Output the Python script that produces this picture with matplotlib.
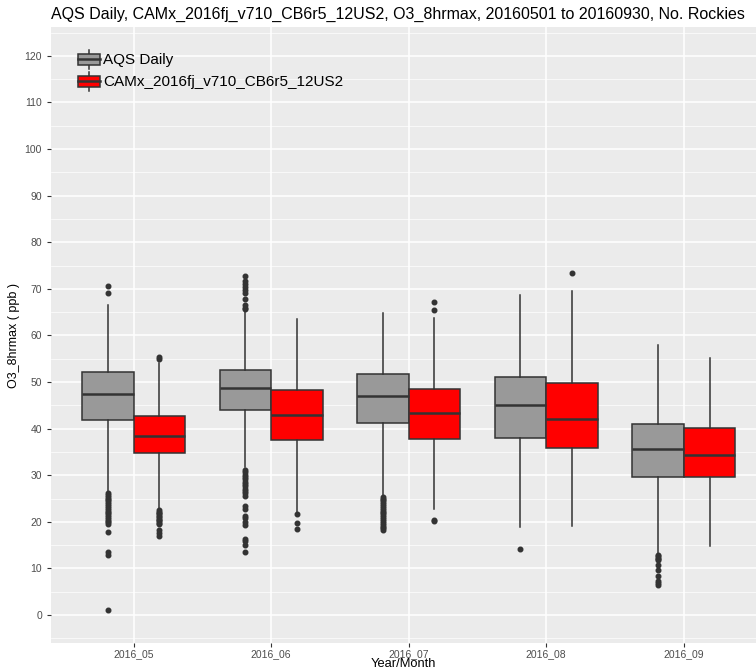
import matplotlib
matplotlib.use("Agg")
import matplotlib.pyplot as plt
from matplotlib.patches import Patch, Rectangle
from matplotlib.lines import Line2D
from matplotlib.legend_handler import HandlerBase
from matplotlib.ticker import MultipleLocator

plt.rcParams['font.family'] = ['Liberation Sans', 'DejaVu Sans']

# data
months = ['2016_05', '2016_06', '2016_07', '2016_08', '2016_09']
series = ['AQS Daily', 'CAMx_2016fj_v710_CB6r5_12US2']
colors = ['#999999', '#FF0000']

# AQS Daily
obs_q1 = [41.9, 44.1, 41.3, 38.0, 29.7]
obs_med = [47.4, 48.7, 47.0, 45.1, 35.6]
obs_q3 = [52.1, 52.6, 51.7, 51.1, 41.1]
obs_lo = [26.4, 31.8, 25.6, 19.0, 13.0]
obs_hi = [66.5, 65.0, 64.8, 68.7, 57.9]
obs_fliers = [
    [70.6, 69.2, 26.2, 25.8, 25.4, 25.0, 24.6, 24.2, 23.8, 23.4, 23.0, 22.6,
     22.2, 21.8, 21.4, 21.0, 20.6, 20.2, 19.9, 19.6, 17.8, 13.6, 12.8, 1.0],
    [72.8, 71.6, 71.0, 70.4, 69.8, 69.2, 67.8, 66.5, 66.0, 65.6, 31.1, 30.6,
     30.1, 29.6, 29.1, 28.6, 28.1, 27.6, 27.1, 26.6, 26.1, 25.6, 23.4, 22.8,
     21.3, 20.8, 20.0, 19.4, 16.4, 15.9, 15.0, 13.6],
    [25.4, 25.0, 24.6, 24.2, 23.8, 23.4, 23.0, 22.6, 22.2, 21.8, 21.4, 21.0,
     20.6, 20.2, 19.8, 19.4, 19.0, 18.6, 18.2],
    [14.2],
    [12.9, 12.6, 12.3, 12.0, 11.8, 10.7, 9.7, 8.4, 7.2, 6.8, 6.4],
]

# CAMx model
mod_q1 = [34.7, 37.6, 37.8, 35.9, 29.7]
mod_med = [38.5, 42.9, 43.3, 42.1, 34.3]
mod_q3 = [42.7, 48.3, 48.5, 49.7, 40.1]
mod_lo = [22.8, 22.2, 22.7, 19.1, 14.8]
mod_hi = [54.0, 63.5, 63.8, 69.6, 55.1]
mod_fliers = [
    [55.3, 55.0, 22.5, 22.2, 21.9, 21.6, 21.3, 21.0, 20.7, 20.4, 20.1, 19.8,
     19.5, 18.2, 17.6, 16.9],
    [21.6, 19.8, 18.4],
    [67.1, 65.5, 20.5, 20.1],
    [73.5],
    [],
]


def make_stats(q1, med, q3, lo, hi, fl):
    out = []
    for i in range(len(q1)):
        out.append(dict(q1=q1[i], med=med[i], q3=q3[i], whislo=lo[i],
                        whishi=hi[i], fliers=fl[i]))
    return out


class BoxKey(HandlerBase):
    def create_artists(self, legend, orig_handle, xdescent, ydescent,
                       width, height, fontsize, trans):
        x0, y0 = -xdescent, -ydescent
        fc = orig_handle.get_facecolor()
        box = Rectangle((x0, y0 + 0.22 * height), width, 0.56 * height,
                        facecolor=fc, edgecolor='#333333', lw=1.1,
                        transform=trans)
        xm = x0 + width / 2
        ym = y0 + height / 2
        med = Line2D([x0, x0 + width], [ym, ym], color='#333333', lw=1.8,
                     transform=trans)
        w1 = Line2D([xm, xm], [y0, y0 + 0.22 * height], color='#333333',
                    lw=1.1, transform=trans)
        w2 = Line2D([xm, xm], [y0 + 0.78 * height, y0 + height],
                    color='#333333', lw=1.1, transform=trans)
        return [w1, w2, box, med]


fig = plt.figure(figsize=(7.56, 6.72), dpi=100)
ax = fig.add_axes([51 / 756, 29 / 672, 705 / 756, 616 / 672])
ax.set_facecolor('#EBEBEB')

all_stats = [make_stats(obs_q1, obs_med, obs_q3, obs_lo, obs_hi, obs_fliers),
             make_stats(mod_q1, mod_med, mod_q3, mod_lo, mod_hi, mod_fliers)]
offsets = [-0.1875, 0.1875]

for k in range(2):
    pos = [i + 1 + offsets[k] for i in range(len(months))]
    ax.bxp(all_stats[k], positions=pos, widths=0.375, patch_artist=True,
           showcaps=False,
           boxprops=dict(facecolor=colors[k], edgecolor='#333333', lw=1.1),
           medianprops=dict(color='#333333', lw=1.8),
           whiskerprops=dict(color='#333333', lw=1.1),
           flierprops=dict(marker='o', markersize=3.3, markerfacecolor='#333333',
                           markeredgecolor='#333333', linestyle='none'),
           zorder=3)

ax.set_xlim(0.4, 5.525)
ax.set_ylim(-6, 126.2)
ax.set_xticks(range(1, len(months) + 1))
ax.set_xticklabels(months)
ax.yaxis.set_major_locator(MultipleLocator(10))
ax.yaxis.set_minor_locator(MultipleLocator(5))
ax.grid(which='major', color='white', lw=1.1, zorder=0)
ax.grid(which='minor', axis='y', color='white', lw=0.5, zorder=0)
ax.set_axisbelow(True)
for s in ax.spines.values():
    s.set_visible(False)
ax.tick_params(which='major', length=3, color='#333333', labelsize=7.5,
               labelcolor='#4D4D4D', width=0.8)
ax.tick_params(axis='x', which='major', pad=1.5)
ax.tick_params(which='minor', length=0)

ax.set_xlabel('Year/Month', fontsize=9.3, labelpad=-1)
ax.set_ylabel('O3_8hrmax ( ppb )', fontsize=9, labelpad=3)
ax.set_title('AQS Daily, CAMx_2016fj_v710_CB6r5_12US2, O3_8hrmax, 20160501 to 20160930, No. Rockies',
             fontsize=11.5, loc='left', pad=6)

handles = [Patch(facecolor=c) for c in colors]
ax.legend(handles, series, handler_map={Patch: BoxKey()}, loc='upper left',
          bbox_to_anchor=(0.025, 0.978), frameon=False, fontsize=11,
          handlelength=1.45, handleheight=1.55, handletextpad=0.2,
          labelspacing=0.2, borderaxespad=0.2)

fig.savefig('out.png', dpi=100)
